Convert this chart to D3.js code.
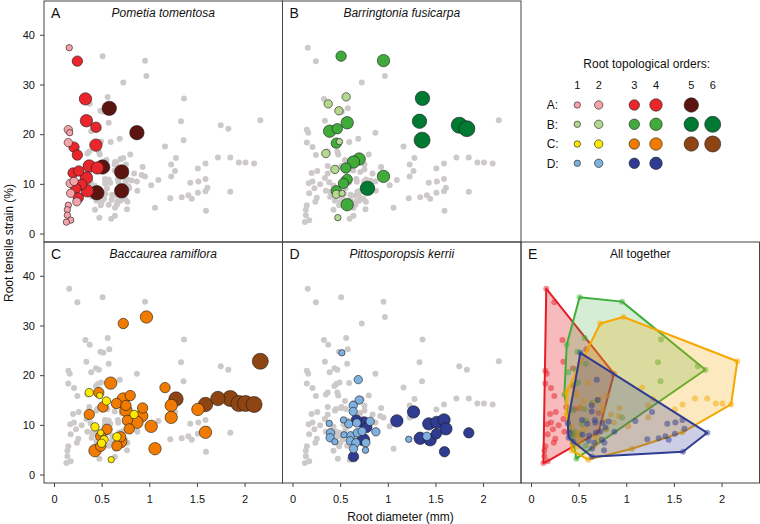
<!DOCTYPE html>
<html><head><meta charset="utf-8">
<script src="https://cdn.jsdelivr.net/npm/d3@7"></script>
<style>
body{margin:0;background:#fff}
svg{display:block}
text{font-family:"Liberation Sans",Arial,Helvetica,sans-serif;fill:#111}
</style>
</head><body>
<svg id="chart" width="760" height="524"></svg>
<script>
// ---------------- DATA ----------------
const aDiam   = [0.16,0.15,0.165,0.15,0.17,0.21,0.175,0.24,0.15,0.14,0.14,0.175,0.13,
                 0.245,0.33,0.34,0.44,0.21,0.44,0.245,0.20,0.26,0.37,0.455,0.34,0.29,0.23,0.35,0.255,
                 0.58,0.87,0.51,0.71,0.45,0.71];
const aStrain = [37.4,20.9,20.3,18.3,10.1,10.5,8.1,6.4,5.7,4.8,3.7,2.7,2.3,
                 34.7,27.1,22.7,21.4,17.4,17.8,15.8,12.2,12.6,13.6,13.2,11.2,9.9,9.1,8.6,7.2,
                 25.2,20.3,13.4,12.4,8.2,8.6];
const aOrder  = [1,2,1,2,2,2,2,2,1,1,1,1,1,
                 3,4,4,3,3,4,3,3,3,4,4,4,3,3,4,3,
                 5,5,5,5,5,5];

const bDiam   = [0.563,0.375,0.487,0.493,0.35,0.445,0.52,0.46,0.476,
                 0.51,0.955,0.574,0.47,0.39,0.46,0.70,0.64,0.56,0.574,0.535,0.46,0.955,0.574,
                 1.364,1.333,1.36,1.75,1.83,0.787];
const bStrain = [27.5,26.1,24.7,18.5,16.1,12.9,8.1,7.9,3.2,
                 35.7,34.8,22.3,21.1,20.6,18.2,15.0,14.4,13.2,10.9,10.1,8.6,11.5,5.8,
                 27.2,22.6,18.8,21.8,21.1,9.1];
const bOrder  = [2,2,2,1,2,2,1,2,1,
                 3,4,4,3,4,3,4,4,3,3,3,3,4,4,
                 5,5,6,6,6,5];

const cDiam   = [0.37,0.48,0.55,0.84,0.43,0.49,0.525,0.50,0.66,0.60,
                 0.727,0.97,0.595,0.47,1.165,0.727,0.80,0.655,0.514,0.755,0.755,0.93,0.92,1.23,1.23,
                 0.37,0.77,0.87,1.02,0.79,0.556,1.51,1.59,0.70,0.70,0.66,0.49,0.43,1.06,0.49,
                 1.28,1.59,1.72,1.85,1.94,2.01,2.10,2.165];
const cStrain = [16.5,15.9,14.8,12.1,9.6,8.4,7.0,6.3,7.6,3.0,
                 30.4,31.7,18.4,16.5,17.5,15.2,15.9,14.3,13.6,13.9,12.9,13.4,11.8,13.9,11.5,
                 12.1,10.9,10.5,9.7,9.2,9.1,13.1,8.5,7.6,6.6,5.8,5.7,4.8,5.2,7.7,
                 15.2,14.1,15.3,15.3,14.3,14.3,14.1,22.8];
const cOrder  = [2,1,2,2,2,1,2,2,2,1,
                 3,4,4,3,3,4,3,3,3,3,4,3,4,4,4,
                 3,3,4,4,3,3,4,4,3,4,3,3,4,4,3,
                 5,5,5,6,6,6,6,6];

const dDiam   = [0.518,0.69,0.70,0.637,0.637,0.385,0.535,0.59,0.675,0.815,0.40,0.395,0.445,0.54,
                 0.61,0.68,0.73,0.875,0.605,0.665,0.64,0.77,0.766,1.22,1.41,
                 0.67,0.75,0.78,0.745,0.64,1.095,1.27,1.34,1.43,1.445,1.51,1.515,1.59,1.61,1.595,1.85];
const dStrain = [24.5,19.1,15.0,13.9,12.7,10.3,11.0,10.2,10.4,10.7,8.4,7.4,6.6,8.0,
                 7.8,8.4,8.7,8.6,6.8,6.4,5.2,6.4,4.9,7.1,7.7,
                 11.0,10.4,9.5,7.0,3.6,10.8,12.6,7.3,10.2,7.0,8.2,10.5,11.0,9.2,4.6,8.4];
const dOrder  = [1,2,2,2,2,1,1,2,2,2,2,2,1,1,
                 2,2,2,2,2,2,2,2,1,1,2,
                 3,4,3,4,3,4,4,4,4,4,3,4,4,4,3,3];

const xTicks = [0, 0.5, 1, 1.5, 2];
const yTicks = [0, 10, 20, 30, 40];
const orderLabels = ["1","2","3","4","5","6"];

const aColors = ["#f4a3a8","#f4a3a8","#e8262b","#e8262b","#5c1410"];
const bColors = ["#b5d890","#b5d890","#40ab3b","#40ab3b","#007a33","#007a33"];
const cColors = ["#fde800","#fde800","#f07b00","#f07b00","#8f4513","#8f4513"];
const dColors = ["#7eb0e0","#7eb0e0","#2f3c92","#2f3c92"];
const hullColors = ["#e41e26","#3fae3a","#f5a800","#2f3c92"];
const radiusByOrder = [0, 3.2, 4.2, 5.2, 6.2, 7.2, 8.0];

// ---------------- LAYOUT ----------------
const svg = d3.select("#chart");
const W = 238.5, H = 241;
const colX = [44, 282.5, 521], rowY = [1, 242];
const xDomain = [-0.105, 2.398], yDomain = [-1.7, 46.8];

const species = [
  {key:"A", name:"Pometia tomentosa",   diam:aDiam, strain:aStrain, order:aOrder, colors:aColors, c:0, r:0, fillOp:0.3},
  {key:"B", name:"Barringtonia fusicarpa", diam:bDiam, strain:bStrain, order:bOrder, colors:bColors, c:1, r:0, fillOp:0.22},
  {key:"C", name:"Baccaurea ramiflora", diam:cDiam, strain:cStrain, order:cOrder, colors:cColors, c:0, r:1, fillOp:0.25},
  {key:"D", name:"Pittosporopsis kerrii", diam:dDiam, strain:dStrain, order:dOrder, colors:dColors, c:1, r:1, fillOp:0.25}
];
species.forEach((s, si) => {
  s.pts = s.diam.map((d, i) => ({d, s: s.strain[i], o: s.order[i], sp: si}));
});
const allPts = species.flatMap(s => s.pts);

function scales(c, r) {
  const L = colX[c], T = rowY[r];
  return {
    L, T,
    x: d3.scaleLinear().domain(xDomain).range([L, L + W]),
    y: d3.scaleLinear().domain(yDomain).range([T + H, T])
  };
}

function frame(sc) {
  svg.append("rect").attr("x", sc.L).attr("y", sc.T).attr("width", W).attr("height", H)
    .attr("fill", "none").attr("stroke", "#444").attr("stroke-width", 1);
}

function axes(sc, left, bottom) {
  if (left) {
    const g = svg.append("g").attr("transform", `translate(${sc.L},0)`)
      .call(d3.axisLeft(sc.y).tickValues(yTicks).tickSize(4).tickPadding(5));
    g.select(".domain").remove();
    g.selectAll("line").attr("stroke", "#444");
    g.selectAll("text").style("font-size", "11px").attr("fill", "#111")
      .style("font-family", '"Liberation Sans",Arial,Helvetica,sans-serif');
  }
  if (bottom) {
    const g = svg.append("g").attr("transform", `translate(0,${sc.T + H})`)
      .call(d3.axisBottom(sc.x).tickValues(xTicks).tickSize(4).tickPadding(8).tickFormat(d => String(d)));
    g.select(".domain").remove();
    g.selectAll("line").attr("stroke", "#444");
    g.selectAll("text").style("font-size", "11px").attr("fill", "#111")
      .style("font-family", '"Liberation Sans",Arial,Helvetica,sans-serif');
  }
}

function labels(sc, key, title, italic) {
  svg.append("text").attr("x", sc.L + 7).attr("y", sc.T + 17.3)
    .style("font-size", "14px").text(key);
  svg.append("text").attr("x", sc.L + W / 2).attr("y", sc.T + 15.8)
    .attr("text-anchor", "middle").style("font-size", "12px")
    .style("font-style", italic ? "italic" : "normal").text(title);
}

// ---------------- PANELS A-D ----------------
species.forEach(s => {
  const sc = scales(s.c, s.r);
  svg.append("g").selectAll("circle").data(allPts).join("circle")
    .attr("cx", p => sc.x(p.d)).attr("cy", p => sc.y(p.s)).attr("r", 3)
    .attr("fill", "#cdc9c9");
  const sorted = s.pts.slice().sort((a, b) => b.o - a.o);
  svg.append("g").selectAll("circle").data(sorted).join("circle")
    .attr("cx", p => sc.x(p.d)).attr("cy", p => sc.y(p.s)).attr("r", p => radiusByOrder[p.o])
    .attr("fill", p => s.colors[p.o - 1]).attr("stroke", "#1a1a1a").attr("stroke-width", 0.6);
  frame(sc);
  axes(sc, s.c === 0, s.r === 1);
  labels(sc, s.key, s.name, true);
});

// ---------------- PANEL E ----------------
{
  const sc = scales(2, 1);
  species.forEach((s, si) => {
    const px = s.pts.map(p => [sc.x(p.d), sc.y(p.s)]);
    const hull = d3.polygonHull(px);
    svg.append("path").attr("d", "M" + hull.join("L") + "Z")
      .attr("fill", hullColors[si]).attr("fill-opacity", s.fillOp)
      .attr("stroke", hullColors[si]).attr("stroke-width", 2).attr("stroke-linejoin", "round");
    svg.append("g").selectAll("circle").data(s.pts).join("circle")
      .attr("cx", p => sc.x(p.d)).attr("cy", p => sc.y(p.s)).attr("r", 3)
      .attr("fill", hullColors[si]).attr("fill-opacity", 0.5);
  });
  frame(sc);
  axes(sc, false, true);
  labels(sc, "E", "All together", false);
}

// ---------------- LEGEND ----------------
{
  const colPos = [577.3, 598.7, 634.3, 656, 691.3, 712.7];
  const rowPos = [105, 124.3, 144, 163.3];
  svg.append("text").attr("x", 646.7).attr("y", 68.3).attr("text-anchor", "middle")
    .style("font-size", "12px").text("Root topological orders:");
  orderLabels.forEach((t, i) => {
    svg.append("text").attr("x", colPos[i]).attr("y", 89.3).attr("text-anchor", "middle")
      .style("font-size", "11px").text(t);
  });
  species.forEach((s, si) => {
    svg.append("text").attr("x", 546.7).attr("y", rowPos[si] + 4.2)
      .style("font-size", "12px").text(s.key + ":");
    s.colors.forEach((col, oi) => {
      svg.append("circle").attr("cx", colPos[oi]).attr("cy", rowPos[si])
        .attr("r", radiusByOrder[oi + 1]).attr("fill", col)
        .attr("stroke", "#1a1a1a").attr("stroke-width", 0.6);
    });
  });
}

// ---------------- AXIS TITLES ----------------
svg.append("text").attr("transform", "translate(12.5,243) rotate(-90)")
  .attr("text-anchor", "middle").style("font-size", "12px").text("Root tensile strain (%)");
svg.append("text").attr("x", 400.5).attr("y", 521).attr("text-anchor", "middle")
  .style("font-size", "12px").text("Root diameter (mm)");
</script>
</body></html>
